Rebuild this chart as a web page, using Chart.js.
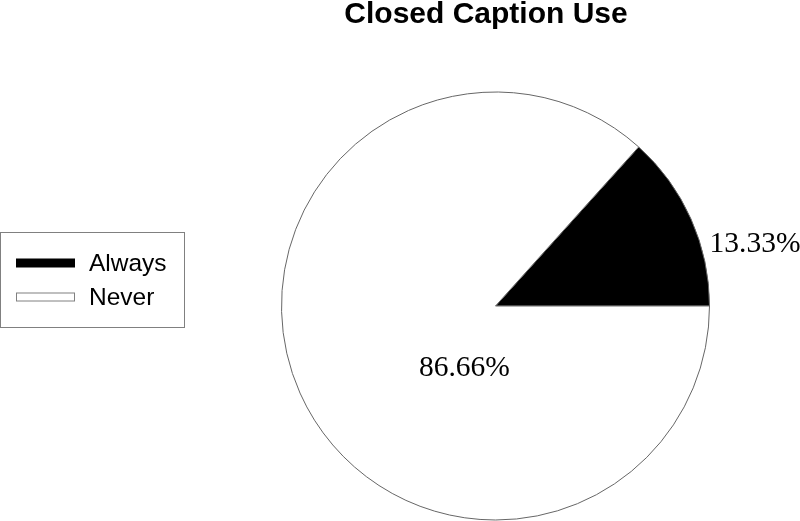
<!DOCTYPE html>
<html>
<head>
<meta charset="utf-8">
<script src="https://cdn.jsdelivr.net/npm/chart.js@4"></script>
<style>
  html, body { margin: 0; padding: 0; background: #fff; }
  #wrap { width: 800px; height: 521px; position: relative; }
</style>
</head>
<body>
<div id="wrap"><canvas id="chart1"></canvas></div>
<script>
  const categories = ['Always', 'Never'];
  const values = [13.33, 86.66];
  const pctLabels = ['13.33%', '86.66%'];
  const colors = ['#000000', '#ffffff'];
  const titleText = 'Closed Caption Use';

  // label placement as fractions of the pie radius (dx, dy, alignment)
  const labelSpots = [
    { dx: 1.0, dy: -0.29, align: 'left' },
    { dx: -0.145, dy: 0.29, align: 'center' }
  ];

  const decorations = {
    id: 'decorations',
    afterDraw(chart) {
      const c = chart.ctx;
      c.save();
      // title
      c.fillStyle = '#000';
      c.font = 'bold 30px "Liberation Sans", Arial, sans-serif';
      c.textAlign = 'center';
      c.textBaseline = 'alphabetic';
      c.fillText(titleText, 486, 23);

      // percent labels
      const arcs = chart.getDatasetMeta(0).data;
      c.font = '29.5px "Liberation Serif", "Times New Roman", serif';
      c.textBaseline = 'middle';
      arcs.forEach((arc, i) => {
        const p = arc.getProps(['x', 'y', 'outerRadius'], true);
        const s = labelSpots[i];
        c.textAlign = s.align;
        c.fillText(pctLabels[i], p.x + s.dx * p.outerRadius, p.y + s.dy * p.outerRadius);
      });

      // legend box
      c.strokeStyle = '#808080';
      c.lineWidth = 1;
      c.strokeRect(0.5, 232.5, 184, 95);
      c.font = '24.5px "Liberation Sans", Arial, sans-serif';
      c.textAlign = 'left';
      categories.forEach((name, i) => {
        const y = 263 + i * 34;
        c.fillStyle = colors[i];
        c.fillRect(16, y - 4.5, 59, 9);
        if (colors[i] === '#ffffff') {
          c.strokeStyle = '#808080';
          c.strokeRect(16.5, y - 4, 58, 8);
        }
        c.fillStyle = '#000';
        c.fillText(name, 89, y + 1);
      });
      c.restore();
    }
  };

  const ctx1 = document.getElementById('chart1').getContext('2d');
  const chart1 = new Chart(ctx1, {
    type: 'pie',
    data: {
      labels: categories,
      datasets: [{
        data: values,
        backgroundColor: colors,
        borderColor: '#666666',
        borderWidth: 1
      }]
    },
    options: {
      responsive: true,
      maintainAspectRatio: false,
      animation: false,
      rotation: 42,
      layout: { padding: { left: 281, right: 90, top: 91, bottom: 0 } },
      plugins: {
        legend: { display: false },
        title: { display: false },
        tooltip: { enabled: false }
      }
    },
    plugins: [decorations]
  });
</script>
</body>
</html>
